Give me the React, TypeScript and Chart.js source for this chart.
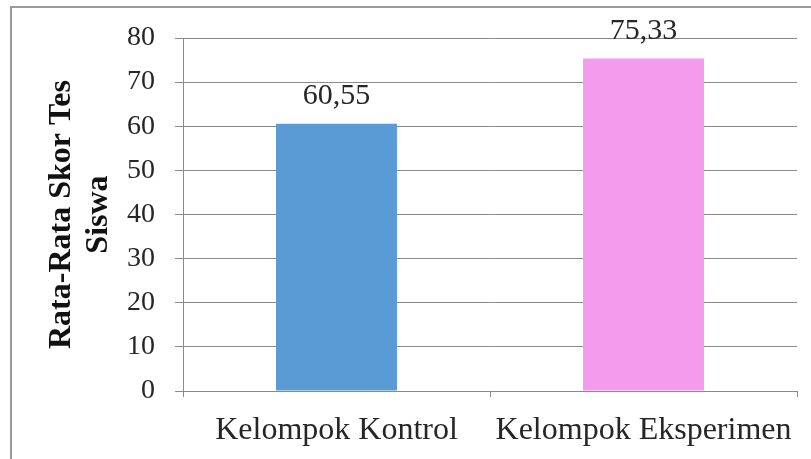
import React, { useEffect, useRef } from "react";
import { Chart, registerables } from "chart.js";

Chart.register(...registerables);

// Rata-rata skor tes per kelompok
const categories: string[] = ["Kelompok Kontrol", "Kelompok Eksperimen"];
const scores: number[] = [60.55, 75.33];
const barColors: string[] = ["#5B9BD5", "#F49BEE"];
const yTicks: number[] = [0, 10, 20, 30, 40, 50, 60, 70, 80];
const yTitle: string[] = ["Rata-Rata Skor Tes", "Siswa"];

const SERIF = '"Liberation Serif", "Times New Roman", serif';
const GRID = "#8a8a8a";
const TEXT = "#262626";

const formatValue = (v: number) => v.toFixed(2).replace(".", ",");

// Writes each bar's value above it, decimal comma style
const valueLabels = {
  id: "valueLabels",
  afterDatasetsDraw(chart: any) {
    const ctx = chart.ctx;
    const meta = chart.getDatasetMeta(0);
    ctx.save();
    ctx.font = `30px ${SERIF}`;
    ctx.fillStyle = TEXT;
    ctx.textAlign = "center";
    ctx.textBaseline = "alphabetic";
    meta.data.forEach((bar: any, i: number) => {
      ctx.fillText(formatValue(scores[i]), bar.x, bar.y - 20);
    });
    ctx.restore();
  },
};

// Thin frame along the top and left edges of the figure
const frame = {
  id: "frame",
  beforeDraw(chart: any) {
    const ctx = chart.ctx;
    ctx.save();
    ctx.strokeStyle = "#9a9a9a";
    ctx.lineWidth = 2;
    ctx.beginPath();
    ctx.moveTo(11, chart.height);
    ctx.lineTo(11, 7);
    ctx.lineTo(chart.width, 7);
    ctx.stroke();
    ctx.restore();
  },
};

export default function App() {
  const canvasRef = useRef<HTMLCanvasElement | null>(null);

  useEffect(() => {
    if (!canvasRef.current) return;
    const chart = new Chart(canvasRef.current, {
      type: "bar",
      data: {
        labels: categories,
        datasets: [
          {
            data: scores,
            backgroundColor: barColors,
            borderWidth: 0,
            categoryPercentage: 1,
            barPercentage: 0.394,
          },
        ],
      },
      plugins: [frame, valueLabels],
      options: {
        animation: false,
        responsive: false,
        maintainAspectRatio: false,
        layout: { padding: { left: 0, right: 14, top: 38, bottom: 0 } },
        plugins: {
          legend: { display: false },
          tooltip: { enabled: false },
          title: { display: false },
        },
        scales: {
          x: {
            offset: true,
            afterFit: (scale: any) => {
              scale.height = 68;
            },
            grid: {
              display: true,
              offset: true,
              drawOnChartArea: false,
              drawTicks: true,
              tickLength: 6,
              color: GRID,
              lineWidth: 1,
            },
            border: { display: true, color: GRID, width: 1 },
            ticks: {
              color: TEXT,
              font: { family: SERIF, size: 32 },
              padding: 14,
              maxRotation: 0,
              autoSkip: false,
            },
          },
          y: {
            min: 0,
            max: 80,
            afterFit: (scale: any) => {
              scale.width = 183;
            },
            afterBuildTicks: (scale: any) => {
              scale.ticks = yTicks.map((v) => ({ value: v }));
            },
            grid: {
              display: true,
              drawTicks: true,
              tickLength: 8,
              color: GRID,
              lineWidth: 1,
            },
            border: { display: true, color: GRID, width: 1 },
            ticks: {
              color: TEXT,
              font: { family: SERIF, size: 28 },
              padding: 20,
              stepSize: 10,
            },
            title: {
              display: true,
              text: yTitle,
              color: "#111111",
              font: { family: SERIF, size: 32, weight: "bold", lineHeight: 1.16 },
              padding: { top: 43, bottom: 0 },
            },
          },
        },
      },
    });
    return () => chart.destroy();
  }, []);

  return (
    <div
      style={{
        position: "fixed",
        left: 0,
        top: 0,
        width: 811,
        height: 459,
        background: "#ffffff",
      }}
    >
      <canvas ref={canvasRef} width={811} height={459} style={{ display: "block" }} />
    </div>
  );
}
